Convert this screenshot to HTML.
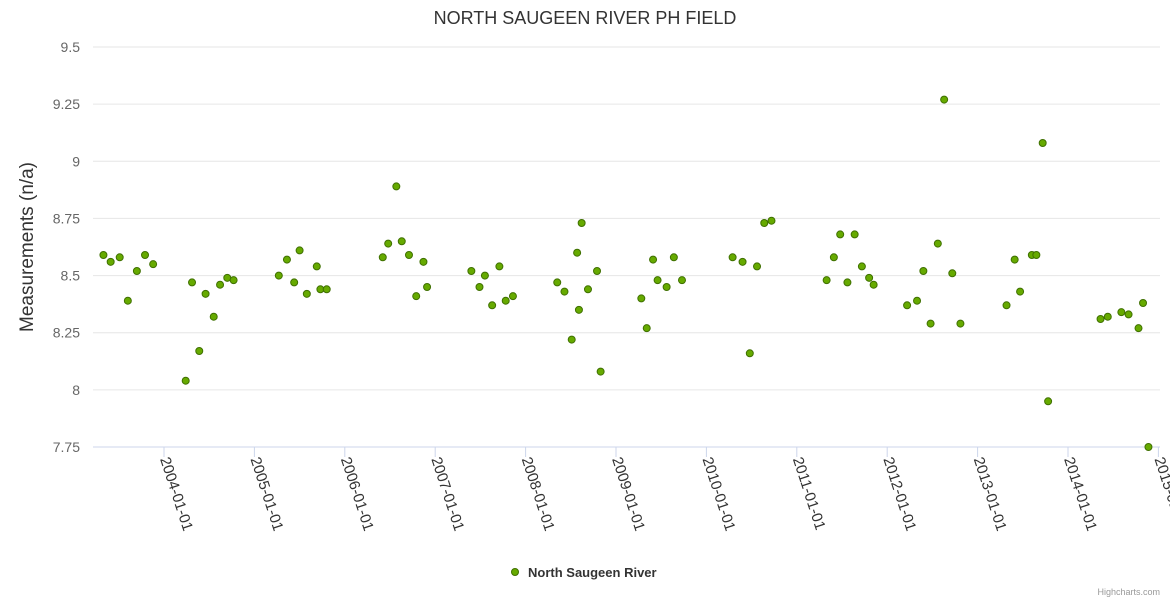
<!DOCTYPE html>
<html><head><meta charset="utf-8"><style>
body{margin:0;background:#fff;font-family:"Liberation Sans",sans-serif}
</style></head><body>
<svg id="chart" width="1170" height="600" xmlns="http://www.w3.org/2000/svg">
<text x="585" y="24" text-anchor="middle" font-size="18" fill="#333">NORTH SAUGEEN RIVER PH FIELD</text>
<text transform="translate(33,247) rotate(-90)" text-anchor="middle" font-size="19" fill="#333">Measurements (n/a)</text>
<g id="grid"></g><g id="xax"></g><g id="pts"></g>
<g>
<circle cx="515" cy="572" r="3.5" fill="#66aa00" stroke="#3f7000" stroke-width="1"/>
<text x="528" y="577" font-size="13" font-weight="bold" fill="#333">North Saugeen River</text></g>
<text x="1160" y="595" text-anchor="end" font-size="9" fill="#999">Highcharts.com</text>
</svg>
<script>
const yTicks=[7.75,8,8.25,8.5,8.75,9,9.25,9.5];
const yTickLabels=["7.75","8","8.25","8.5","8.75","9","9.25","9.5"];
const xTicks=[2004,2005,2006,2007,2008,2009,2010,2011,2012,2013,2014,2015];
const xTickLabels=["2004-01-01","2005-01-01","2006-01-01","2007-01-01","2008-01-01","2009-01-01","2010-01-01","2011-01-01","2012-01-01","2013-01-01","2014-01-01","2015-01-01"];
const dates=[2003.33,2003.41,2003.51,2003.60,2003.70,2003.79,2003.88,2004.24,2004.31,2004.39,2004.46,2004.55,2004.62,2004.70,2004.77,2005.27,2005.36,2005.44,2005.50,2005.58,2005.69,2005.73,2005.80,2006.42,2006.48,2006.57,2006.63,2006.71,2006.79,2006.87,2006.91,2007.40,2007.49,2007.55,2007.63,2007.71,2007.78,2007.86,2008.35,2008.43,2008.51,2008.57,2008.59,2008.62,2008.69,2008.79,2008.83,2009.28,2009.34,2009.41,2009.46,2009.56,2009.64,2009.73,2010.29,2010.40,2010.48,2010.56,2010.64,2010.72,2011.33,2011.41,2011.48,2011.56,2011.64,2011.72,2011.80,2011.85,2012.22,2012.33,2012.40,2012.48,2012.56,2012.63,2012.72,2012.81,2013.32,2013.41,2013.47,2013.60,2013.65,2013.72,2013.78,2014.36,2014.44,2014.59,2014.67,2014.78,2014.83,2014.89];
const values=[8.59,8.56,8.58,8.39,8.52,8.59,8.55,8.04,8.47,8.17,8.42,8.32,8.46,8.49,8.48,8.50,8.57,8.47,8.61,8.42,8.54,8.44,8.44,8.58,8.64,8.89,8.65,8.59,8.41,8.56,8.45,8.52,8.45,8.50,8.37,8.54,8.39,8.41,8.47,8.43,8.22,8.60,8.35,8.73,8.44,8.52,8.08,8.40,8.27,8.57,8.48,8.45,8.58,8.48,8.58,8.56,8.16,8.54,8.73,8.74,8.48,8.58,8.68,8.47,8.68,8.54,8.49,8.46,8.37,8.39,8.52,8.29,8.64,9.27,8.51,8.29,8.37,8.57,8.43,8.59,8.59,9.08,7.95,8.31,8.32,8.34,8.33,8.27,8.38,7.75];
const NS="http://www.w3.org/2000/svg";
const L=93,R=1160,T=47,B=447;
const yS=v=>B-(v-7.75)/1.75*(B-T);
const xS=d=>164+(d-2004)*90.4;
function mk(tag,attrs,parent){const e=document.createElementNS(NS,tag);for(const k in attrs)e.setAttribute(k,attrs[k]);document.getElementById(parent).appendChild(e);return e;}
yTicks.forEach((v,i)=>{
 const l=mk('line',{x1:L,x2:R,y1:yS(v),y2:yS(v),stroke:i==0?'#ccd6eb':'#e6e6e6','stroke-width':1},'grid');
 
 
 const t=mk('text',{x:80,y:yS(v)+5,'text-anchor':'end','font-size':14,fill:'#666'},'grid');
 t.textContent=yTickLabels[i];
 
 
});
xTicks.forEach((d,i)=>{
 const x=xS(d);
 const l=mk('line',{x1:x,x2:x,y1:B,y2:B+10,stroke:'#ccd6eb'},'xax');
 
 
 const t=mk('text',{transform:`translate(${x-4},${B+12}) rotate(72)`,'font-size':15,fill:'#333'},'xax');
 t.textContent=xTickLabels[i];
 
 
});
dates.forEach((d,i)=>{
 const c=mk('circle',{cx:xS(d),cy:yS(values[i]),r:3.5,fill:'#66aa00',stroke:'#3f7000','stroke-width':1},'pts');
 
 
});
</script>
</body></html>
